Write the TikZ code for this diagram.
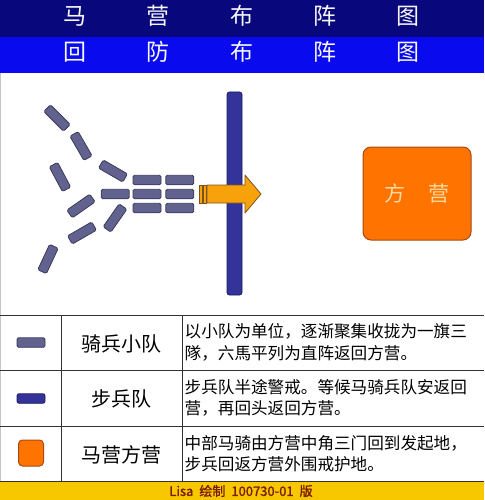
\documentclass[tikz,border=0pt]{standalone}
\usepackage{fontspec}
\setmainfont{Noto Sans CJK SC}
\newfontfamily\footfont[FakeBold=1.6]{Noto Sans CJK SC}
\usetikzlibrary{positioning}

\definecolor{navytop}{HTML}{08087C}
\definecolor{bluebar}{HTML}{0A0AEE}
\definecolor{cavfill}{HTML}{62628F}
\definecolor{cavline}{HTML}{3A3A5C}
\definecolor{inffill}{HTML}{33339A}
\definecolor{infline}{HTML}{1C1C5E}
\definecolor{campfill}{HTML}{FF7300}
\definecolor{campline}{HTML}{A84A10}
\definecolor{camptext}{HTML}{FFD9A0}
\definecolor{arrowfill}{HTML}{F7A20A}
\definecolor{arrowline}{HTML}{7A5420}
\definecolor{footfill}{HTML}{F7C800}
\definecolor{foottext}{HTML}{7A1E00}

\tikzset{
  title/.style={text=white!94!gray, font=\fontsize{23}{25}\selectfont, text height=0.82em, text depth=0.1em, inner sep=0pt},
  cav/.style={draw=cavline, fill=cavfill, line width=0.8pt, rounded corners=1.5pt, minimum width=28pt, minimum height=9.5pt, inner sep=0pt},
  inf/.style={draw=infline, fill=inffill, line width=0.8pt, rounded corners=2pt, inner sep=0pt},
  camp/.style={draw=campline, fill=campfill, line width=1pt, inner sep=0pt},
  unitname/.style={font=\fontsize{20}{22}\selectfont, inner sep=0pt},
  desc/.style={font=\fontsize{16.6}{21.5}\selectfont, align=left, anchor=west, inner sep=0pt},
  tableline/.style={draw=black!80, line width=0.8pt}
}

\begin{document}
\begin{tikzpicture}[x=1pt, y=-1pt]
\useasboundingbox (0,0) rectangle (484,500);
% title bars
\fill[navytop] (0,0) rectangle (484,37);
\fill[bluebar] (0,37) rectangle (484,73);
\foreach \i/\c in {0/马,1/营,2/布,3/阵,4/图}
  \node (ta\i) [title] at (75+83.3*\i,21) {\c};
\foreach \i/\c in {0/回,1/防,2/布,3/阵,4/图}
  \node (tb\i) [title] at (75+83.3*\i,57) {\c};
\draw[gray!45, line width=0.6pt] (0.5,73) -- (0.5,481);

% infantry line
\node (inf) [inf, minimum width=15pt, minimum height=203pt, rounded corners=2.5pt] at (234.5,193.5) {};

% scattered cavalry squads
\node (c1) [cav, rotate=-45] at (57,118) {};
\node (c2) [cav, rotate=-60] at (81,146) {};
\node (c3) [cav, rotate=-30] at (113,171) {};
\node (c4) [cav, rotate=-62] at (60,177) {};
\node (c5) [cav, rotate=35] at (81,206) {};
\node (c6) [cav, rotate=55] at (115,218) {};
\node (c7) [cav, rotate=30] at (82,233) {};
\node (c8) [cav, rotate=65] at (48,259) {};

% gathered squads
\node (g1) [cav] at (147,180) {};
\node (g2) [cav, right=4pt of g1] {};
\node (g3) [cav] at (147,194) {};
\node (g4) [cav, right=4pt of g3] {};
\node (g5) [cav] at (147,208) {};
\node (g6) [cav, right=4pt of g5] {};
\node (g0) [cav, left=3pt of g3] {};

% return arrow
\draw[arrowline, fill=arrowfill, line width=0.7pt] (199,185) rectangle (202,203);
\draw[arrowline, fill=arrowfill, line width=0.7pt] (203.5,185) rectangle (206,203);
\draw[arrowline, fill=arrowfill, line width=0.8pt, line join=round]
  (207,185) -- (245,185) -- (245,175) -- (261,194) -- (245,213) -- (245,203) -- (207,203) -- cycle;

% camp
\node (camp) [camp, rounded corners=8pt, minimum width=108pt, minimum height=93pt,
  text=camptext, font=\fontsize{21}{23}\selectfont] at (417,193.5) {方\hspace{23pt}营};

% legend table
\draw[tableline] (0,315) -- (484,315);
\draw[tableline] (0,370) -- (484,370);
\draw[tableline] (0,426) -- (484,426);
\draw[tableline] (61,315) -- (61,481);
\draw[tableline] (182,315) -- (182,481);

\node (k1) [cav] at (31,342.5) {};
\node (k2) [inf, minimum width=28pt, minimum height=9.5pt] at (31,398.5) {};
\node (k3) [camp, rounded corners=4pt, minimum width=25pt, minimum height=26pt] at (31,453) {};

\node (n1) [unitname] at (121.5,344) {骑兵小队};
\node (n2) [unitname] at (121.5,399) {步兵队};
\node (n3) [unitname] at (121.5,455) {马营方营};

\node (d1) [desc] at (184.5,342.5) {以小队为单位，逐渐聚集收拢为一旗三\\隊，六馬平列为直阵返回方营。};
\node (d2) [desc] at (184.5,398) {步兵队半途警戒。等候马骑兵队安返回\\营，再回头返回方营。};
\node (d3) [desc] at (184.5,453.5) {中部马骑由方营中角三门回到发起地，\\步兵回返方营外围戒护地。};

% footer
\fill[footfill] (0,481) rectangle (484,500);
\draw[tableline] (0,481) -- (484,481);
\node (foot) [text=foottext, font=\footfont\fontsize{13}{14}\selectfont, inner sep=0pt] at (241,491) {Lisa\hspace{6pt}绘制\hspace{6pt}100730-01\hspace{6pt}版};
\end{tikzpicture}
\end{document}
